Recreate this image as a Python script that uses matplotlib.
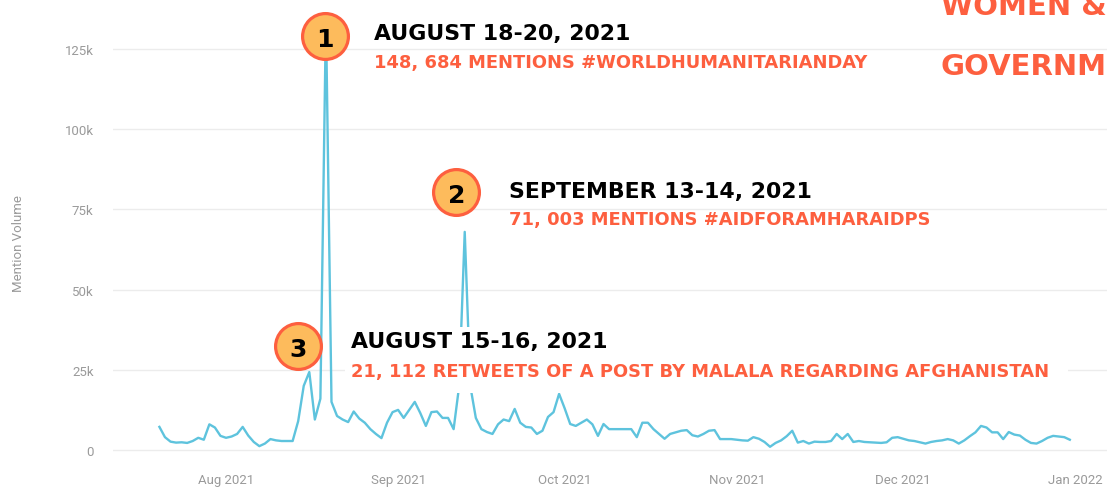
import numpy as np
import pandas as pd
import matplotlib
matplotlib.use("Agg")
import matplotlib.pyplot as plt
import matplotlib.dates as mdates
from matplotlib.patches import Rectangle

# daily mention volume (thousands), 2021-07-20 .. 2021-12-31
start_date = "2021-07-20"
volume_k = [
    7.2, 4.0, 2.6, 2.3, 2.4, 2.2, 2.8, 3.8, 3.2, 8.0, 7.0, 4.4,          # Jul 20-31
    3.8, 4.2, 5.0, 7.2, 4.5, 2.5, 1.2, 2.0, 3.4, 3.0, 2.8, 2.8, 2.8,     # Aug 1-13
    9.0, 20.0, 24.3, 9.5, 16.0, 135.0, 15.0, 10.6, 9.5, 8.7, 12.0, 9.8,  # Aug 14-25
    8.5, 6.5, 5.0, 3.7, 8.5, 11.8,                                       # Aug 26-31
    12.5, 10.0, 12.5, 15.0, 11.5, 7.5, 11.8, 12.0, 10.0, 10.0, 6.5,      # Sep 1-11
    20.0, 68.0, 20.0, 10.0, 6.5, 5.6, 5.0, 8.0, 9.5, 9.0, 12.8, 8.5,     # Sep 12-23
    7.2, 7.0, 5.0, 6.0, 10.3, 11.8, 17.5,                                # Sep 24-30
    13.0, 8.1, 7.5, 8.5, 9.5, 8.0, 4.4, 8.1, 6.5, 6.5, 6.5, 6.5, 6.5,    # Oct 1-13
    4.0, 8.5, 8.5, 6.5, 5.0, 3.5, 5.0, 5.5, 6.0, 6.2, 4.6, 4.2, 5.0,     # Oct 14-26
    6.0, 6.2, 3.4, 3.4, 3.4,                                             # Oct 27-31
    3.2, 3.0, 2.9, 4.0, 3.5, 2.5, 1.0, 2.2, 3.0, 4.3, 6.0, 2.3, 2.8,     # Nov 1-13
    2.0, 2.6, 2.5, 2.5, 2.8, 5.0, 3.4, 5.0, 2.5, 2.8, 2.5, 2.4, 2.3,     # Nov 14-26
    2.2, 2.4, 3.8, 4.0,                                                  # Nov 27-30
    3.5, 3.0, 2.8, 2.4, 2.0, 2.5, 2.8, 3.0, 3.4, 3.0, 2.0, 3.0, 4.3,     # Dec 1-13
    5.5, 7.5, 7.0, 5.5, 5.5, 3.4, 5.6, 4.8, 4.5, 3.2, 2.2, 2.0, 2.8,     # Dec 14-26
    3.8, 4.4, 4.2, 4.0, 3.2,                                             # Dec 27-31
]
dates = pd.date_range(start_date, periods=len(volume_k), freq="D")
volume = np.array(volume_k) * 1000

y_ticks = [0, 25000, 50000, 75000, 100000, 125000]
y_tick_labels = ["0", "25k", "50k", "75k", "100k", "125k"]
month_ticks = pd.date_range("2021-08-01", "2022-01-01", freq="MS")

# callouts: badge number, badge date / value, title, subtitle
badges = [("1", "2021-08-18 20:00", 129000),
          ("2", "2021-09-11 12:00", 80400),
          ("3", "2021-08-13 22:00", 32400)]
titles = ["AUGUST 18-20, 2021", "SEPTEMBER 13-14, 2021", "AUGUST 15-16, 2021"]
subtitles = ["148, 684 MENTIONS #WORLDHUMANITARIANDAY",
             "71, 003 MENTIONS #AIDFORAMHARAIDPS",
             "21, 112 RETWEETS OF A POST BY MALALA REGARDING AFGHANISTAN"]
corner_lines = ["WOMEN &", "GOVERNM"]

orange = "#fd5f3f"
line_color = "#5ec3dd"
W, H = 1107, 489

fig = plt.figure(figsize=(W / 100, H / 100), dpi=100)
ax = fig.add_axes([113 / W, (H - 466) / H, 1 - 113 / W, 466 / H])

ax.plot(dates, volume, color=line_color, linewidth=1.7, zorder=3)

x0 = mdates.date2num(pd.Timestamp("2021-08-01"))
ax.set_xlim(x0 - 20.36, x0 + 158.7)
ax.set_ylim(-4680, 140600)

ax.set_yticks(y_ticks)
ax.set_yticklabels(y_tick_labels)
ax.set_xticks(month_ticks)
ax.xaxis.set_major_formatter(mdates.DateFormatter("%b %Y"))
ax.tick_params(length=0, colors="#9a9a9a", labelsize=9.5)
ax.tick_params(axis="y", pad=14)
ax.tick_params(axis="x", pad=6)
for lab in ax.get_xticklabels() + ax.get_yticklabels():
    lab.set_family("Roboto")
ax.grid(axis="y", color="#ececec", linewidth=1)
ax.set_axisbelow(True)
for s in ax.spines.values():
    s.set_visible(False)

fig.text(18 / W, 1 - 244 / H, "Mention Volume", rotation=90, ha="center",
         va="center", color="#9a9a9a", fontsize=9.5, family="Roboto")

# badges
for num, d, v in badges:
    ax.plot(pd.Timestamp(d), v, "o", markersize=33, markerfacecolor="#fdbb5c",
            markeredgecolor=orange, markeredgewidth=2.3, zorder=5,
            clip_on=False)
    ax.text(pd.Timestamp(d), v, num, ha="center", va="center_baseline",
            fontsize=18, fontweight="bold", color="black", zorder=6,
            family="DejaVu Sans")

# white box behind callout 3
fig.add_artist(Rectangle((345 / W, 1 - 394 / H), 723 / W, 66 / H,
                         transform=fig.transFigure, facecolor="white",
                         edgecolor="none", zorder=1))

title_pos = [(374, 40), (509, 198), (351, 348)]
sub_pos = [(374, 68), (509, 225), (351, 377)]
for t, s, (tx, ty), (sx, sy) in zip(titles, subtitles, title_pos, sub_pos):
    fig.text(tx / W, 1 - ty / H, t, ha="left", va="baseline", fontsize=15.8,
             fontweight="bold", color="black", family="DejaVu Sans", zorder=3)
    fig.text(sx / W, 1 - sy / H, s, ha="left", va="baseline", fontsize=12.9,
             fontweight="bold", color=orange, family="DejaVu Sans", zorder=3)

for line, by in zip(corner_lines, [15, 75]):
    fig.text(941 / W, 1 - by / H, line, ha="left", va="baseline",
             fontsize=21, fontweight="bold", color=orange,
             family="DejaVu Sans")

fig.savefig("out.png", dpi=100, facecolor="white")
